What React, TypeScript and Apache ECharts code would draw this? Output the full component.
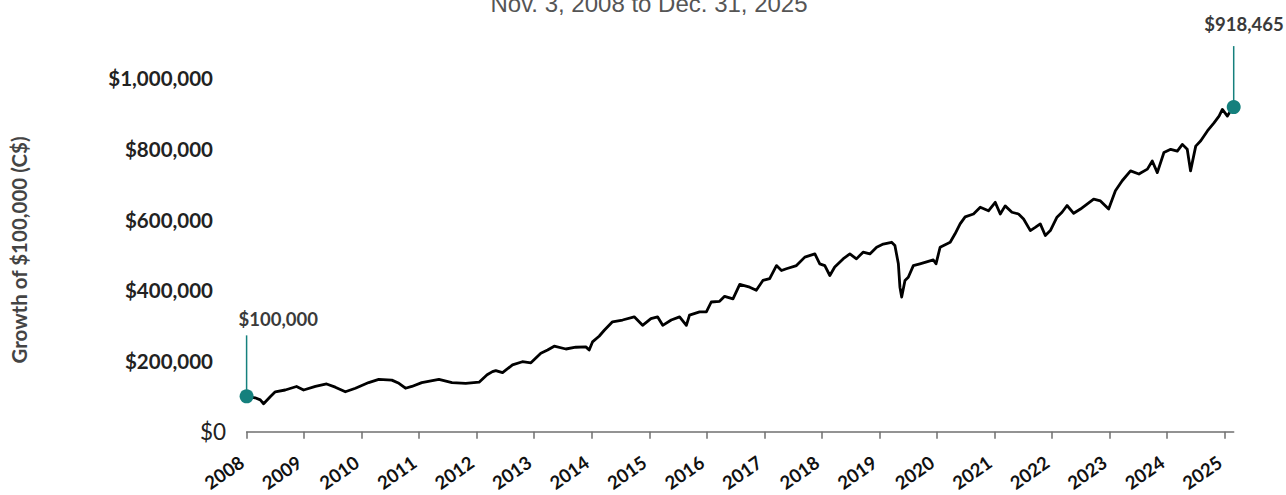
import React, { useEffect, useRef } from 'react';
import * as echarts from 'echarts';

// Period covered by the growth line
const START_DATE = '2008-11-03';
const END_DATE = '2025-12-31';

const TITLE = 'Nov. 3, 2008 to Dec. 31, 2025';
const Y_TITLE = 'Growth of $100,000 (C$)';

// Year labels, one per anniversary of the start date
const yearLabels = [
  '2008', '2009', '2010', '2011', '2012', '2013', '2014', '2015', '2016',
  '2017', '2018', '2019', '2020', '2021', '2022', '2023', '2024', '2025',
];

// Portfolio value (C$) over time
const dates = [
  '2008-11-03', '2008-12-27', '2009-01-29', '2009-02-19', '2009-04-02', '2009-05-04',
  '2009-07-06', '2009-09-16', '2009-10-31', '2010-01-14', '2010-03-26', '2010-05-20',
  '2010-07-23', '2010-09-25', '2010-12-18', '2011-02-20', '2011-05-14', '2011-06-28',
  '2011-08-09', '2011-09-18', '2011-11-20', '2012-03-08', '2012-05-30', '2012-08-25',
  '2012-11-18', '2013-01-08', '2013-02-11', '2013-03-04', '2013-04-16', '2013-06-18',
  '2013-08-20', '2013-10-13', '2013-12-15', '2014-01-27', '2014-03-10', '2014-05-23',
  '2014-07-25', '2014-09-27', '2014-10-18', '2014-11-08', '2014-12-20', '2015-01-22',
  '2015-03-15', '2015-05-18', '2015-07-31', '2015-09-22', '2015-11-14', '2015-12-26',
  '2016-01-28', '2016-03-22', '2016-05-14', '2016-06-26', '2016-07-16', '2016-09-18',
  '2016-10-31', '2016-12-01', '2017-01-23', '2017-02-24', '2017-04-18', '2017-05-31',
  '2017-08-02', '2017-09-13', '2017-10-25', '2017-12-07', '2018-01-19', '2018-02-20',
  '2018-03-23', '2018-05-26', '2018-07-18', '2018-09-20', '2018-10-21', '2018-11-22',
  '2018-12-24', '2019-01-24', '2019-03-18', '2019-04-30', '2019-06-11', '2019-07-23',
  '2019-09-04', '2019-10-17', '2019-11-28', '2020-01-20', '2020-02-10', '2020-03-03',
  '2020-03-13', '2020-03-24', '2020-04-14', '2020-05-05', '2020-06-06', '2020-07-18',
  '2020-10-11', '2020-10-28', '2020-11-23', '2021-01-26', '2021-02-26', '2021-03-30',
  '2021-05-01', '2021-06-23', '2021-08-05', '2021-09-26', '2021-11-08', '2021-12-10',
  '2022-01-10', '2022-02-22', '2022-04-05', '2022-05-07', '2022-06-19', '2022-07-20',
  '2022-08-21', '2022-09-22', '2022-10-24', '2022-12-05', '2023-01-06', '2023-02-07',
  '2023-03-21', '2023-05-03', '2023-07-26', '2023-09-07', '2023-10-29', '2023-12-11',
  '2024-01-23', '2024-03-16', '2024-05-08', '2024-07-01', '2024-08-01', '2024-09-02',
  '2024-10-14', '2024-11-26', '2025-01-07', '2025-02-08', '2025-03-11', '2025-04-01',
  '2025-05-04', '2025-06-05', '2025-07-17', '2025-08-28', '2025-09-29', '2025-10-20',
  '2025-11-21', '2025-12-22', '2025-12-31',
];

const values = [
  100000, 96000, 90000, 79000, 99000, 113000,
  118000, 128000, 118000, 128000, 135000, 126000,
  113000, 123000, 139000, 148000, 146000, 137000,
  123000, 128000, 139000, 148000, 139000, 137000,
  140000, 161000, 170000, 173000, 167000, 189000,
  198000, 195000, 222000, 231000, 242000, 234000,
  239000, 240000, 231000, 254000, 270000, 287000,
  311000, 316000, 325000, 301000, 320000, 325000,
  301000, 316000, 325000, 301000, 330000, 339000,
  339000, 367000, 369000, 383000, 376000, 417000,
  409000, 400000, 428000, 433000, 470000, 456000,
  461000, 470000, 494000, 503000, 475000, 470000,
  442000, 466000, 489000, 503000, 489000, 508000,
  503000, 522000, 531000, 536000, 527000, 475000,
  409000, 381000, 428000, 437000, 470000, 475000,
  486000, 475000, 522000, 536000, 560000, 588000,
  608000, 616000, 635000, 625000, 649000, 616000,
  639000, 621000, 616000, 602000, 569000, 578000,
  588000, 555000, 569000, 607000, 621000, 640000,
  618000, 630000, 658000, 653000, 630000, 682000,
  710000, 738000, 729000, 743000, 766000, 733000,
  790000, 799000, 794000, 813000, 799000, 738000,
  808000, 823000, 851000, 874000, 893000, 912000,
  893000, 916000, 918465,
];

// Start and end values called out on the chart
const calloutDates = [START_DATE, END_DATE];
const calloutValues = [100000, 918465];

const TEAL = '#15807d';
const LABEL_FONT = 'Lato';

// Leader-line length and label placement (px) for each callout
const calloutStyles = [
  { rise: 61, dx: -8, dy: -77, align: 'left' },
  { rise: 61, dx: 50, dy: -83, align: 'right' },
];

const MS_PER_YEAR = 365.25 * 86400000;
const yearsSince = (d: string) =>
  (Date.parse(d + 'T00:00:00Z') - Date.parse(START_DATE + 'T00:00:00Z')) / MS_PER_YEAR;

const money = (v: number) => '$' + v.toLocaleString('en-US');

export default function App() {
  const ref = useRef<HTMLDivElement>(null);

  useEffect(() => {
    if (!ref.current) return;
    const chart = echarts.init(ref.current, undefined, { renderer: 'svg' });

    const lineData = dates.map((d, i) => [yearsSince(d), values[i]]);
    const calloutData = calloutDates.map((d, i) => [yearsSince(d), calloutValues[i]]);
    const yearTicks = yearLabels.map((_, i) => i);

    chart.setOption({
      animation: false,
      backgroundColor: '#ffffff',
      grid: {
        left: 246.6,
        right: 52.3,
        top: 7.6,
        bottom: 63.3,
        containLabel: false,
        outerBoundsMode: 'none',
      },
      graphic: [
        {
          type: 'text',
          x: 649,
          y: 3,
          style: {
            text: TITLE,
            font: '24px "Liberation Sans", Arial, sans-serif',
            fill: '#555555',
            align: 'center',
            verticalAlign: 'middle',
          },
        },
        {
          type: 'text',
          x: 19,
          y: 250,
          rotation: Math.PI / 2,
          style: {
            text: Y_TITLE,
            font: `bold 20.5px ${LABEL_FONT}`,
            fill: '#444444',
            align: 'center',
            verticalAlign: 'middle',
          },
        },
      ],
      xAxis: {
        type: 'value',
        min: 0,
        max: yearsSince(END_DATE),
        splitLine: { show: false },
        axisLine: { show: true, lineStyle: { color: '#6f6f6f', width: 1.5 } },
        axisTick: {
          show: true,
          inside: false,
          length: 7,
          customValues: yearTicks,
          lineStyle: { color: '#6f6f6f', width: 1.5 },
        },
        axisLabel: {
          customValues: yearTicks,
          rotate: 35,
          margin: 25,
          hideOverlap: false,
          formatter: (v: number) => `{y|${yearLabels[Math.round(v)] ?? ''}}`,
          rich: {
            y: {
              fontFamily: LABEL_FONT,
              fontWeight: 'bold',
              fontSize: 18.5,
              lineHeight: 15,
              color: '#111111',
              padding: [0, 6, 0, 0],
            },
          },
        },
      },
      yAxis: {
        type: 'value',
        min: 0,
        max: 1200000,
        interval: 200000,
        splitLine: { show: false },
        axisLine: { show: false },
        axisTick: { show: false },
        axisLabel: {
          margin: 20.6,
          formatter: (v: number) =>
            v === 0 ? '{z|$0}' : v > 1000000 ? '' : `{b|${money(v)}}`,
          rich: {
            b: {
              fontFamily: LABEL_FONT,
              fontWeight: 'bold',
              fontSize: 20.5,
              color: '#222222',
              padding: [0, 13, 0, 0],
            },
            z: {
              fontFamily: LABEL_FONT,
              fontWeight: 'normal',
              fontSize: 22.5,
              color: '#222222',
            },
          },
        },
      },
      series: [
        {
          type: 'line',
          data: lineData,
          showSymbol: false,
          symbol: 'none',
          lineStyle: { color: '#000000', width: 2.8, join: 'round' },
          z: 2,
        },
        {
          type: 'custom',
          data: calloutData,
          clip: false,
          z: 3,
          renderItem: (params: any, api: any) => {
            const [x, y] = api.coord([api.value(0), api.value(1)]);
            const s = calloutStyles[params.dataIndex];
            return {
              type: 'group',
              children: [
                {
                  type: 'line',
                  shape: { x1: x, y1: y, x2: x, y2: y - s.rise },
                  style: { stroke: TEAL, lineWidth: 1.5 },
                },
                {
                  type: 'circle',
                  shape: { cx: x, cy: y, r: 7 },
                  style: { fill: TEAL },
                },
                {
                  type: 'text',
                  x: x + s.dx,
                  y: y + s.dy,
                  style: {
                    text: money(api.value(1)),
                    font: `bold 18.5px ${LABEL_FONT}`,
                    fill: '#3a3a3a',
                    align: s.align,
                    verticalAlign: 'middle',
                  },
                },
              ],
            };
          },
        },
      ],
    });

    return () => chart.dispose();
  }, []);

  return (
    <div
      ref={ref}
      style={{ position: 'fixed', left: 0, top: 0, width: 1286, height: 495, background: '#fff' }}
    />
  );
}
